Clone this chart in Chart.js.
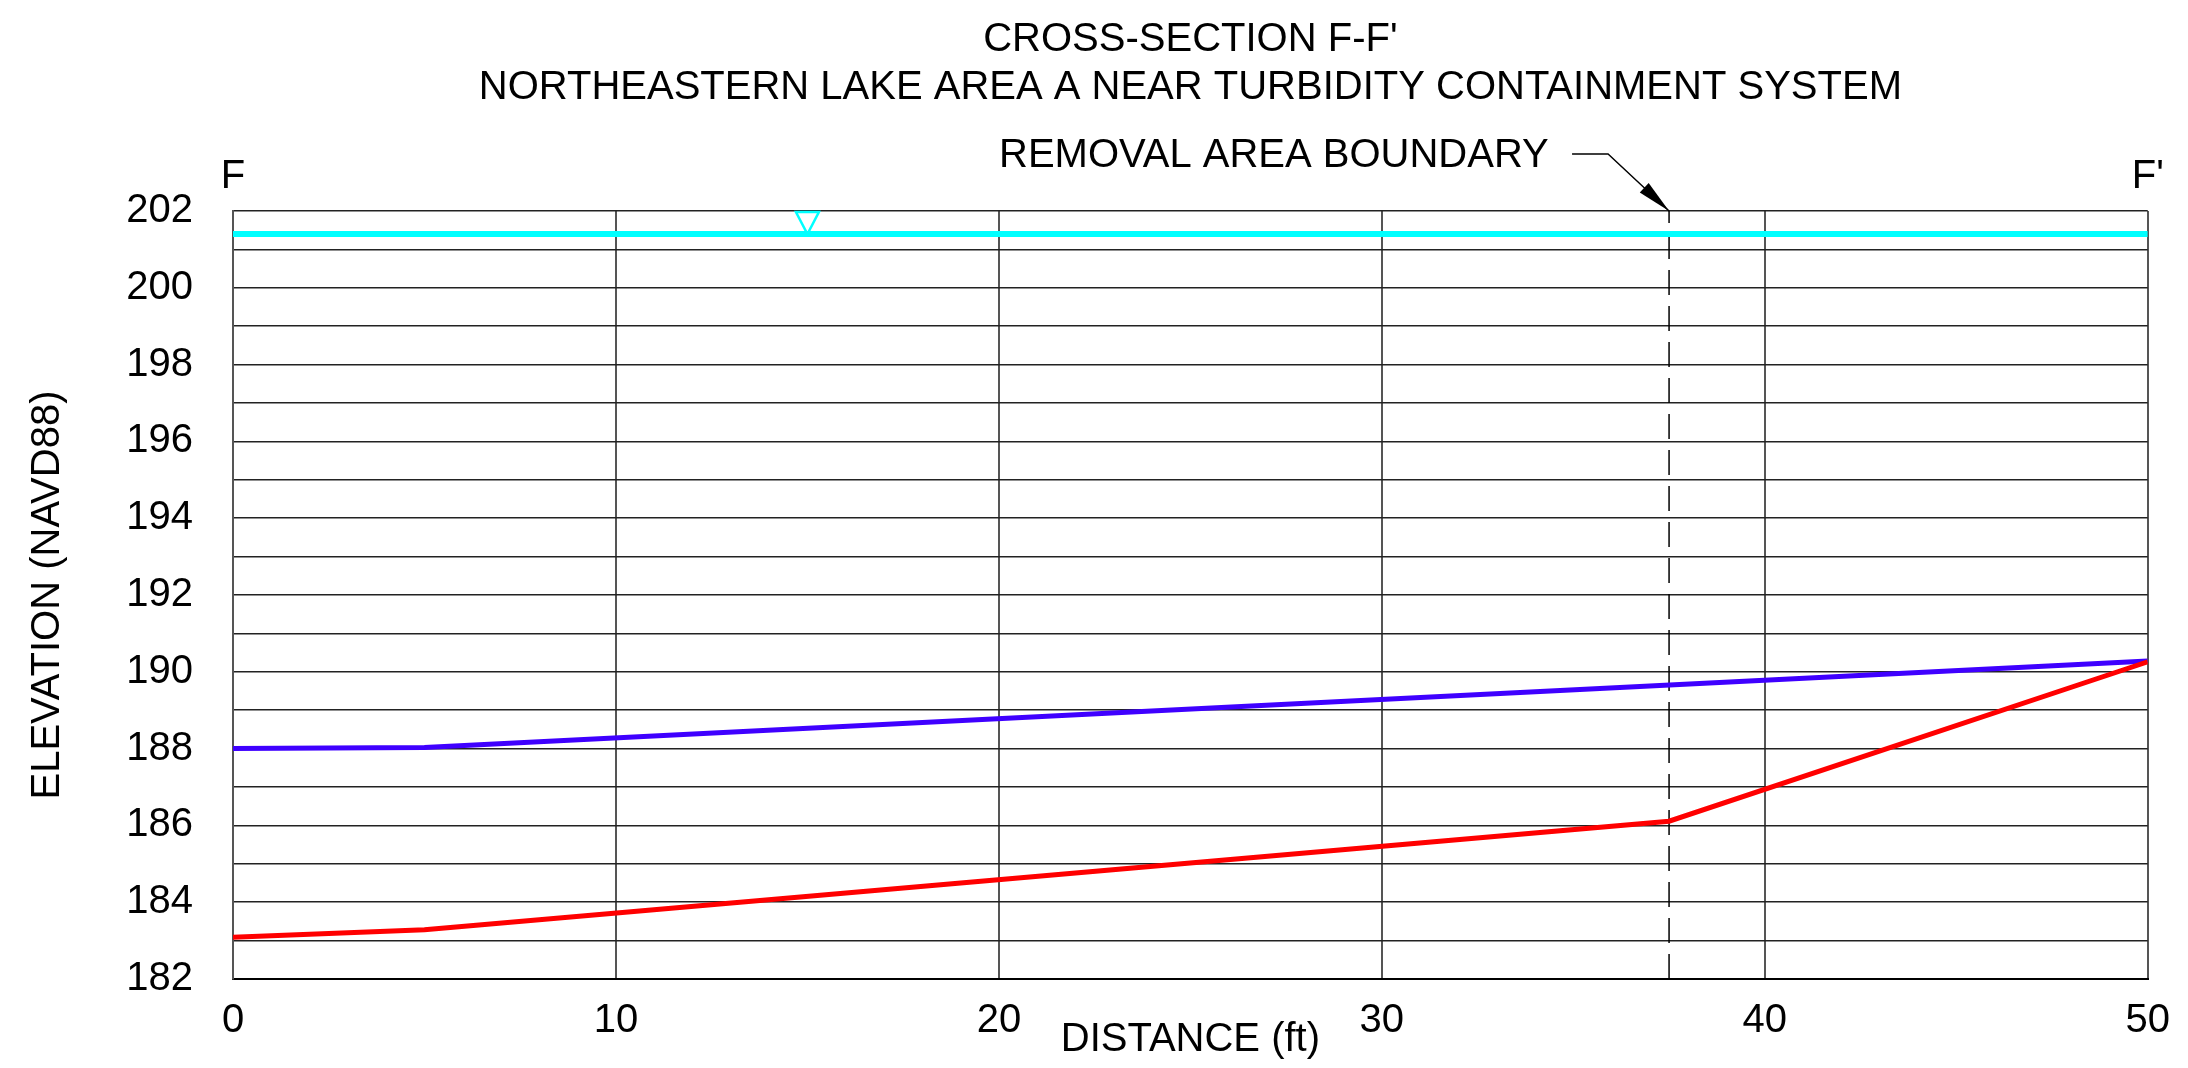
<!DOCTYPE html>
<html>
<head>
<meta charset="utf-8">
<script src="https://cdn.jsdelivr.net/npm/chart.js@4"></script>
<style>
    html, body { margin: 0; padding: 0; background: #fff; }
    #wrap { width: 2188px; height: 1068px; position: relative; }
</style>
</head>
<body>
<div id="wrap"><canvas id="section"></canvas></div>
<script>
    // profile data (distance ft, elevation NAVD88)
    var redDistance = [0, 5, 37.5, 50];
    var redElevation = [183.09, 183.28, 186.11, 190.26];
    var blueDistance = [0, 5, 50];
    var blueElevation = [188.0, 188.03, 190.28];
    var waterDistance = [0, 50];
    var waterElevation = [201.4, 201.4];
    var boundaryDistance = 37.5;
    var waterMarkDistance = 15;
    var xTicks = [0, 10, 20, 30, 40, 50];
    var yTicks = [182, 184, 186, 188, 190, 192, 194, 196, 198, 200, 202];

    var FONT = '"Liberation Sans", Arial, Helvetica, sans-serif';

    function toPoints(xs, ys) {
        return xs.map(function(x, i) { return { x: x, y: ys[i] }; });
    }

    var annotations = {
        id: 'annotations',
        afterDatasetsDraw: function(chart) {
            var ctx = chart.ctx;
            var xs = chart.scales.x;
            var ys = chart.scales.y;
            var top = chart.chartArea.top;

            ctx.save();
            ctx.fillStyle = '#000';
            ctx.font = '40px ' + FONT;
            ctx.textBaseline = 'alphabetic';
            ctx.textAlign = 'center';
            ctx.fillText('F', xs.getPixelForValue(0), 188);
            ctx.fillText("F'", xs.getPixelForValue(50), 188);

            ctx.textAlign = 'left';
            ctx.fillText('REMOVAL AREA BOUNDARY', 999, 167);

            // leader + arrow to boundary line
            var tipX = xs.getPixelForValue(boundaryDistance);
            var tipY = top;
            ctx.strokeStyle = '#000';
            ctx.lineWidth = 1.4;
            ctx.beginPath();
            ctx.moveTo(tipX - 97, tipY - 57);
            ctx.lineTo(tipX - 61, tipY - 57);
            ctx.lineTo(tipX, tipY);
            ctx.stroke();
            var ang = Math.atan2(57, 61);
            var len = 34, hw = 6.5;
            var bx = tipX - len * Math.cos(ang), by = tipY - len * Math.sin(ang);
            ctx.beginPath();
            ctx.moveTo(tipX, tipY);
            ctx.lineTo(bx + hw * Math.sin(ang), by - hw * Math.cos(ang));
            ctx.lineTo(bx - hw * Math.sin(ang), by + hw * Math.cos(ang));
            ctx.closePath();
            ctx.fill();

            // water level symbol
            var mx = xs.getPixelForValue(waterMarkDistance);
            var my = ys.getPixelForValue(waterElevation[0]);
            ctx.strokeStyle = '#00ffff';
            ctx.lineWidth = 2.5;
            ctx.beginPath();
            ctx.moveTo(mx - 11.5, top + 1);
            ctx.lineTo(mx + 11.5, top + 1);
            ctx.lineTo(mx, my);
            ctx.closePath();
            ctx.stroke();
            ctx.restore();
        }
    };

    new Chart(document.getElementById('section').getContext('2d'), {
        type: 'scatter',
        data: {
            datasets: [{
                data: toPoints(redDistance, redElevation),
                showLine: true,
                borderColor: '#ff0000',
                borderWidth: 5,
                pointRadius: 0,
                tension: 0
            }, {
                data: toPoints(blueDistance, blueElevation),
                showLine: true,
                borderColor: '#3f00ff',
                borderWidth: 5,
                pointRadius: 0,
                tension: 0
            }, {
                data: toPoints(waterDistance, waterElevation),
                showLine: true,
                borderColor: '#00ffff',
                borderWidth: 6,
                pointRadius: 0,
                tension: 0
            }, {
                data: [{ x: boundaryDistance, y: yTicks[0] }, { x: boundaryDistance, y: yTicks[yTicks.length - 1] }],
                showLine: true,
                borderColor: '#000',
                borderWidth: 1.5,
                borderDash: [25, 11],
                pointRadius: 0
            }]
        },
        options: {
            responsive: true,
            maintainAspectRatio: false,
            animation: false,
            layout: { padding: { top: 0, right: 35, bottom: 0, left: 0 } },
            plugins: {
                legend: { display: false },
                tooltip: { enabled: false },
                title: {
                    display: true,
                    fullSize: false,
                    text: ["CROSS-SECTION F-F'", 'NORTHEASTERN LAKE AREA A NEAR TURBIDITY CONTAINMENT SYSTEM'],
                    color: '#000',
                    font: { family: FONT, size: 40, weight: 'normal', lineHeight: 1.2 },
                    padding: { top: 15.7, bottom: 99.3 }
                }
            },
            scales: {
                x: {
                    type: 'linear',
                    min: xTicks[0],
                    max: xTicks[xTicks.length - 1],
                    afterBuildTicks: function(scale) {
                        scale.ticks = xTicks.map(function(v) { return { value: v }; });
                    },
                    afterFit: function(scale) { scale.height = 89; },
                    grid: { color: '#555', lineWidth: 2, drawTicks: false },
                    border: { color: '#000', width: 2 },
                    ticks: {
                        color: '#000',
                        padding: 18,
                        maxRotation: 0,
                        autoSkip: false,
                        font: { family: FONT, size: 40 }
                    },
                    title: {
                        display: true,
                        text: 'DISTANCE (ft)',
                        color: '#000',
                        font: { family: FONT, size: 40 },
                        padding: { top: 0, bottom: 4.5 }
                    }
                },
                y: {
                    min: yTicks[0],
                    max: yTicks[yTicks.length - 1],
                    ticks: {
                        stepSize: 1,
                        autoSkip: false,
                        color: '#000',
                        padding: 40,
                        font: { family: FONT, size: 40 },
                        callback: function(value) {
                            return yTicks.indexOf(value) >= 0 ? String(value) : '';
                        }
                    },
                    afterFit: function(scale) { scale.width = 233; },
                    grid: { color: '#222', lineWidth: 1.6, drawTicks: false },
                    border: { color: '#555', width: 2 },
                    title: {
                        display: true,
                        text: 'ELEVATION (NAVD88)',
                        color: '#000',
                        font: { family: FONT, size: 40 },
                        padding: { top: 24, bottom: 0 }
                    }
                }
            }
        },
        plugins: [annotations]
    });
</script>
</body>
</html>
